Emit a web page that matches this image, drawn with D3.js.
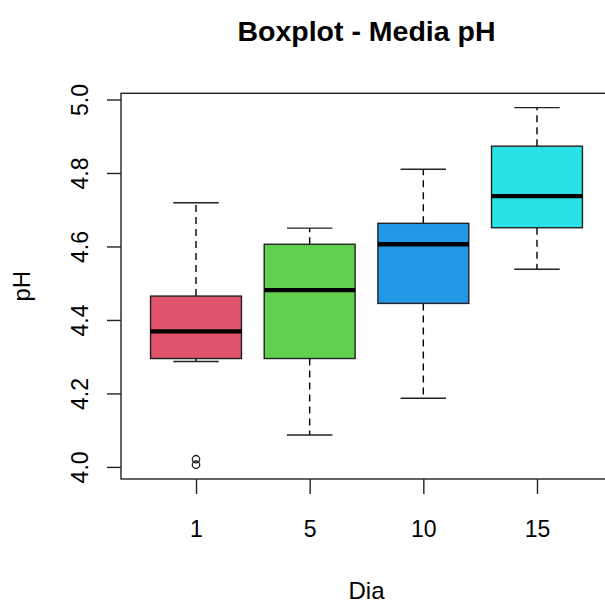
<!DOCTYPE html>
<html>
<head>
<meta charset="utf-8">
<script src="https://cdn.jsdelivr.net/npm/d3@7"></script>
<style>
  body { margin: 0; background: #fff; }
  text { font-family: "Liberation Sans", Arial, sans-serif; fill: #000; }
</style>
</head>
<body>
<script>
// data
var days = ["1", "5", "10", "15"];
var lowWhisker = [4.287, 4.087, 4.187, 4.538];
var q1 = [4.295, 4.295, 4.445, 4.651];
var medians = [4.369, 4.481, 4.606, 4.737];
var q3 = [4.465, 4.606, 4.663, 4.873];
var highWhisker = [4.719, 4.650, 4.810, 4.978];
var outliers = [[4.006, 4.021], [], [], []];
var colors = ["#DF536B", "#61D04F", "#2297E6", "#28E2E5"];
var yTicks = [4.0, 4.2, 4.4, 4.6, 4.8, 5.0];

var width = 605, height = 603;
var mLeft = 121, mRight = 612, mTop = 93.3, mBottom = 479;

var svg = d3.select("body").append("svg")
    .attr("width", width)
    .attr("height", height);

svg.append("rect").attr("width", width).attr("height", height).attr("fill", "#fff");

// R style 4% extension of the data range
var allVals = lowWhisker.concat(highWhisker, d3.merge(outliers));
var lo = d3.min(allVals), hi = d3.max(allVals), pad = (hi - lo) * 0.04;

var x = d3.scaleLinear()
    .domain([0.5 - 0.16, days.length + 0.5 + 0.16])
    .range([mLeft, mRight]);
var y = d3.scaleLinear()
    .domain([lo - pad, hi + pad])
    .range([mBottom, mTop]);

var step = x(2) - x(1);
var boxW = step * 0.8, capW = step * 0.4;

var groups = svg.selectAll("g.box")
    .data(days)
    .enter().append("g")
    .attr("class", "box");

// whiskers
groups.append("line")
    .attr("x1", function (d, i) { return x(i + 1); })
    .attr("x2", function (d, i) { return x(i + 1); })
    .attr("y1", function (d, i) { return y(q3[i]); })
    .attr("y2", function (d, i) { return y(highWhisker[i]); })
    .attr("stroke", "#000").attr("stroke-width", 1.4).attr("stroke-dasharray", "7,5");
groups.append("line")
    .attr("x1", function (d, i) { return x(i + 1); })
    .attr("x2", function (d, i) { return x(i + 1); })
    .attr("y1", function (d, i) { return y(q1[i]); })
    .attr("y2", function (d, i) { return y(lowWhisker[i]); })
    .attr("stroke", "#000").attr("stroke-width", 1.4).attr("stroke-dasharray", "7,5");

// caps
[highWhisker, lowWhisker].forEach(function (arr) {
  groups.append("line")
      .attr("x1", function (d, i) { return x(i + 1) - capW / 2; })
      .attr("x2", function (d, i) { return x(i + 1) + capW / 2; })
      .attr("y1", function (d, i) { return y(arr[i]); })
      .attr("y2", function (d, i) { return y(arr[i]); })
      .attr("stroke", "#222").attr("stroke-width", 1.4);
});

// boxes
groups.append("rect")
    .attr("x", function (d, i) { return x(i + 1) - boxW / 2; })
    .attr("width", boxW)
    .attr("y", function (d, i) { return y(q3[i]); })
    .attr("height", function (d, i) { return y(q1[i]) - y(q3[i]); })
    .attr("fill", function (d, i) { return colors[i]; })
    .attr("stroke", "#222").attr("stroke-width", 1.4);

// medians
groups.append("line")
    .attr("x1", function (d, i) { return x(i + 1) - boxW / 2; })
    .attr("x2", function (d, i) { return x(i + 1) + boxW / 2; })
    .attr("y1", function (d, i) { return y(medians[i]); })
    .attr("y2", function (d, i) { return y(medians[i]); })
    .attr("stroke", "#000").attr("stroke-width", 4.3);

// outliers
groups.each(function (d, i) {
  d3.select(this).selectAll("circle")
      .data(outliers[i])
      .enter().append("circle")
      .attr("cx", x(i + 1))
      .attr("cy", function (v) { return y(v); })
      .attr("r", 3.7)
      .attr("fill", "none")
      .attr("stroke", "#222").attr("stroke-width", 1.3);
});

// frame
svg.append("rect")
    .attr("x", mLeft).attr("y", mTop)
    .attr("width", mRight - mLeft).attr("height", mBottom - mTop)
    .attr("fill", "none").attr("stroke", "#222").attr("stroke-width", 1.4);

// y axis
var yAxis = svg.append("g")
    .attr("transform", "translate(" + mLeft + ",0)")
    .call(d3.axisLeft(y).tickValues(yTicks).tickSize(14).tickFormat(d3.format(".1f")));
yAxis.select(".domain").remove();
yAxis.selectAll(".tick line").attr("stroke", "#222").attr("stroke-width", 1.4);
yAxis.selectAll(".tick text")
    .attr("x", null).attr("dy", null)
    .attr("transform", "translate(-33.5,0) rotate(-90)")
    .attr("text-anchor", "middle")
    .style("font-size", "23px")
    .style("font-family", "Liberation Sans, Arial, sans-serif");

// x axis
var xAxis = svg.append("g")
    .attr("transform", "translate(0," + mBottom + ")")
    .call(d3.axisBottom(x).tickValues(d3.range(1, days.length + 1)).tickSize(15)
      .tickFormat(function (v) { return days[v - 1]; }));
xAxis.select(".domain").remove();
xAxis.selectAll(".tick line").attr("stroke", "#222").attr("stroke-width", 1.4);
xAxis.selectAll(".tick text")
    .attr("y", 57.7).attr("dy", null)
    .style("font-size", "23px")
    .style("font-family", "Liberation Sans, Arial, sans-serif");

// labels
svg.append("text")
    .attr("x", (mLeft + mRight) / 2).attr("y", 40.7)
    .attr("text-anchor", "middle")
    .style("font-size", "28.5px").style("font-weight", "bold")
    .text("Boxplot - Media pH");
svg.append("text")
    .attr("x", (mLeft + mRight) / 2).attr("y", 599)
    .attr("text-anchor", "middle")
    .style("font-size", "24px")
    .text("Dia");
svg.append("text")
    .attr("transform", "translate(30," + (mTop + mBottom) / 2 + ") rotate(-90)")
    .attr("text-anchor", "middle")
    .style("font-size", "24px")
    .text("pH");
</script>
</body>
</html>
